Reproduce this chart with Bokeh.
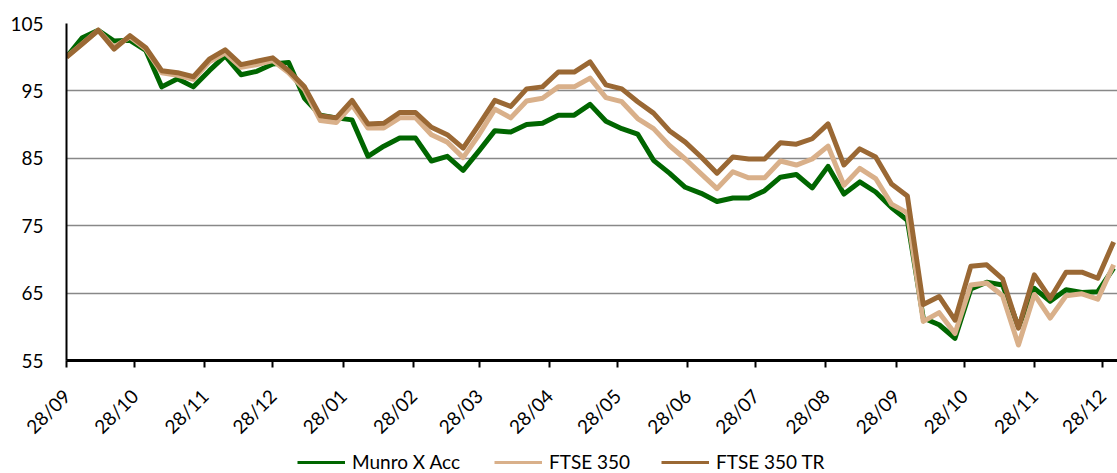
import pandas as pd
from math import pi, nan
from bokeh.plotting import figure
from bokeh.layouts import column
from bokeh.models import Range1d, FixedTicker, Legend, LegendItem, ColumnDataSource
from bokeh.embed import file_html
from bokeh.resources import INLINE

# ---------------- data ----------------
start_date = "2007-09-28"   # weekly (Friday) observations

munro = [100.0, 102.9, 104.0, 102.4, 102.5, 101.0, 95.6, 96.8, 95.6, 98.0,
         100.2, 97.4, 97.9, 99.0, 99.2, 93.9, 91.4, 91.0, 90.7, 85.3,
         86.8, 88.0, 88.0, 84.6, 85.3, 83.2, 86.1, 89.1, 88.9, 90.0,
         90.2, 91.4, 91.4, 93.0, 90.5, 89.4, 88.6, 84.7, 82.8, 80.7,
         79.8, 78.6, 79.1, 79.1, 80.2, 82.2, 82.6, 80.6, 83.8, 79.7,
         81.5, 80.0, 77.7, 75.8, 61.3, 60.3, 58.3, 65.6, 66.6, 66.2,
         60.0, 65.7, 63.8, 65.5, 65.1, 65.2, 68.7]

ftse350 = [100.0, 102.0, 104.0, 101.5, 103.0, 101.2, 97.7, 97.3, 96.7, 99.3,
           100.6, 98.5, 98.9, 99.5, 97.7, 95.2, 90.6, 90.3, 92.9, 89.5,
           89.5, 91.0, 91.0, 88.5, 87.4, 85.1, 88.5, 92.3, 91.0, 93.5,
           93.9, 95.6, 95.6, 96.9, 94.0, 93.4, 90.9, 89.4, 86.9, 84.9,
           82.7, 80.5, 83.0, 82.1, 82.1, 84.6, 84.0, 84.9, 86.8, 81.0,
           83.5, 82.0, 78.2, 76.9, 60.8, 62.1, 59.0, 66.2, 66.5, 64.6,
           57.3, 64.8, 61.3, 64.6, 64.9, 64.1, 69.2]

ftse350_tr = [100.0, 102.0, 104.0, 101.2, 103.2, 101.4, 98.0, 97.7, 97.1, 99.7,
              101.1, 98.9, 99.4, 99.9, 98.0, 95.6, 91.3, 91.0, 93.6, 90.1,
              90.2, 91.8, 91.8, 89.6, 88.5, 86.5, 90.0, 93.6, 92.7, 95.3,
              95.6, 97.8, 97.8, 99.3, 95.9, 95.3, 93.4, 91.7, 89.1, 87.4,
              85.2, 82.8, 85.2, 84.9, 84.9, 87.3, 87.1, 87.9, 90.1, 84.0,
              86.4, 85.2, 81.2, 79.4, 63.3, 64.5, 61.0, 69.0, 69.2, 67.1,
              59.8, 67.7, 64.2, 68.1, 68.1, 67.2, 72.6]

tick_dates = ["2007-09-28", "2007-10-28", "2007-11-28", "2007-12-28",
              "2008-01-28", "2008-02-28", "2008-03-28", "2008-04-28",
              "2008-05-28", "2008-06-28", "2008-07-28", "2008-08-28",
              "2008-09-28", "2008-10-28", "2008-11-28", "2008-12-28"]
tick_labels = ["28/09", "28/10", "28/11", "28/12", "28/01", "28/02", "28/03", "28/04",
               "28/05", "28/06", "28/07", "28/08", "28/09", "28/10", "28/11", "28/12"]

y_ticks = [55, 65, 75, 85, 95, 105]
series_names = ["Munro X Acc", "FTSE 350", "FTSE 350 TR"]
series_colors = ["#006600", "#D9B08A", "#9A6834"]

# ---------------- build ----------------
t0 = pd.Timestamp(start_date)
dates = pd.date_range(start_date, periods=len(munro), freq="7D")
x_days = [(d - t0).days for d in dates]
tick_x = [(pd.Timestamp(d) - t0).days for d in tick_dates]

src = ColumnDataSource(dict(x=x_days, munro=munro, ftse=ftse350, tr=ftse350_tr))

FONT = "Lato"

p = figure(width=1117, height=449, output_backend="svg", toolbar_location=None,
           x_range=Range1d(0, 463.7), y_range=Range1d(55, 105),
           min_border_left=66, min_border_right=0, min_border_top=23,
           min_border_bottom=87)
p.outline_line_color = None
p.background_fill_color = "white"
p.border_fill_color = "white"

cols = ["munro", "ftse", "tr"]
for col, color in zip(cols, series_colors):
    p.line("x", col, source=src, line_color=color, line_width=5, line_join="round")

# axes
p.xaxis.ticker = FixedTicker(ticks=tick_x)
p.xaxis.major_label_overrides = {tx: lab for tx, lab in zip(tick_x, tick_labels)}
p.xaxis.major_label_orientation = pi / 4
p.xaxis.axis_line_width = 3
p.xaxis.axis_line_color = "black"
p.xaxis.major_tick_out = 7
p.xaxis.major_tick_in = 0
p.xaxis.major_tick_line_width = 2
p.xaxis.major_tick_line_color = "black"
p.xaxis.minor_tick_line_color = None
p.xaxis.major_label_standoff = 25
p.xaxis.major_label_text_font = FONT
p.xaxis.major_label_text_font_size = "19px"
p.xaxis.major_label_text_color = "black"

p.yaxis.ticker = FixedTicker(ticks=y_ticks)
p.yaxis.axis_line_width = 2
p.yaxis.axis_line_color = "black"
p.yaxis.major_tick_line_color = None
p.yaxis.minor_tick_line_color = None
p.yaxis.major_label_standoff = 17
p.yaxis.major_label_text_font = FONT
p.yaxis.major_label_text_font_size = "19px"
p.yaxis.major_label_text_color = "black"

p.xgrid.visible = False
p.ygrid.grid_line_color = "#888888"
p.ygrid.grid_line_width = 1.6

# legend strip under the chart (its frame is aligned with the chart's frame)
leg_fig = figure(width=1117, height=24, output_backend="svg", toolbar_location=None,
                 x_range=Range1d(0, 1), y_range=Range1d(0, 1),
                 x_axis_location=None, y_axis_location=None, min_border=0)
leg_fig.outline_line_color = None
leg_fig.grid.visible = False
leg_fig.background_fill_color = "white"
leg_fig.border_fill_color = "white"

legend_x = [231, 428, 595]
for name, color, lx in zip(series_names, series_colors, legend_x):
    proxy = leg_fig.line(x=[nan], y=[nan], line_color=color, line_width=3)
    leg = Legend(items=[LegendItem(label=name, renderers=[proxy])],
                 location=(lx, 0), orientation="horizontal",
                 glyph_width=48, glyph_height=22, label_height=22,
                 label_standoff=7, padding=0, margin=0, spacing=0,
                 border_line_color=None, background_fill_alpha=0,
                 label_text_font=FONT, label_text_font_size="19px",
                 label_text_color="black")
    leg_fig.add_layout(leg, "center")

layout = column(p, leg_fig, spacing=0)
open("out.html", "w").write(file_html(layout, INLINE))
